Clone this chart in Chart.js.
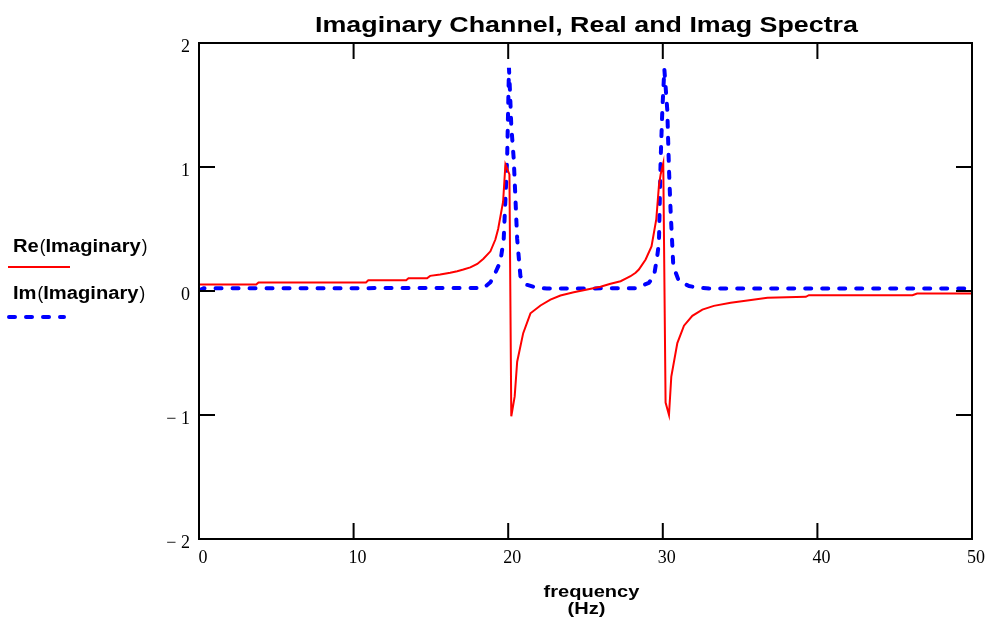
<!DOCTYPE html>
<html>
<head>
<meta charset="utf-8">
<script src="https://cdn.jsdelivr.net/npm/chart.js@4.4.1/dist/chart.umd.min.js"></script>
<style>
  body { margin: 0; background: #fff; }
  canvas { display: block; }
</style>
</head>
<body>
<canvas id="chart" width="989" height="622"></canvas>
<script>
// Re(Imaginary)
const reFreq = [0, 3.7, 3.85, 10.8, 10.95, 13.4, 13.55, 14.75, 14.95, 15.6, 16.25, 16.7, 17.1, 17.55,
  18.0, 18.4, 18.85, 19.17, 19.35, 19.67, 19.82, 20.08, 20.2, 20.42, 20.58, 20.97, 21.44, 22.09,
  22.73, 23.38, 24.24, 25.11, 25.97, 26.62, 27.27, 27.6, 27.91, 28.24, 28.45, 28.89, 29.27, 29.58,
  29.75, 29.86, 30.03, 30.18, 30.4, 30.55, 30.94, 31.37, 31.91, 32.56, 33.3, 34.39, 35.47, 36.77,
  39.25, 39.45, 46.15, 46.45, 50];
const reVals = [0.052, 0.052, 0.069, 0.069, 0.087, 0.087, 0.103, 0.103, 0.122, 0.133, 0.147, 0.16, 0.173, 0.19,
  0.218, 0.26, 0.32, 0.415, 0.5, 0.72, 1.02, 0.94, -1.01, -0.85, -0.57, -0.34, -0.18, -0.117,
  -0.07, -0.036, -0.01, 0.012, 0.034, 0.058, 0.079, 0.1, 0.119, 0.147, 0.173, 0.254, 0.36, 0.58,
  0.85, 0.94, 1.03, -0.9, -1.0, -0.69, -0.42, -0.28, -0.2, -0.15, -0.12, -0.095, -0.077, -0.055,
  -0.047, -0.034, -0.034, -0.02, -0.02];

// Im(Imaginary)
const imFreq = [0, 0.3, 18.4, 18.85, 19.17, 19.5, 19.71, 19.93, 20.05, 20.12, 20.2, 20.36, 20.47, 20.58,
  20.79, 21.2, 21.87, 22.5, 28.24, 29.1, 29.43, 29.64, 29.75, 29.86, 29.97, 30.1, 30.29, 30.4, 30.5,
  30.68, 31.04, 31.7, 32.34, 33, 50];
const imVals = [0.005, 0.022, 0.024, 0.07, 0.147, 0.24, 0.42, 1.06, 1.8, 1.6, 1.33, 1.06, 0.74, 0.42,
  0.12, 0.05, 0.026, 0.02, 0.022, 0.066, 0.12, 0.28, 0.39, 1.06, 1.46, 1.79, 1.46, 0.98, 0.66,
  0.2, 0.08, 0.04, 0.026, 0.02, 0.02];

const xTicks = [0, 10, 20, 30, 40, 50];
const yTicks = [-2, -1, 0, 1, 2];
const seriesNames = ['Re', 'Im'];
const titleText = 'Imaginary Channel, Real and Imag Spectra';
const xTitle = ['frequency', '(Hz)'];

const SANS = '"Liberation Sans", Arial, sans-serif';
const SERIF = '"Liberation Serif", "Times New Roman", serif';

function toPoints(xs, ys) {
  return xs.map((x, i) => ({ x: x, y: ys[i] }));
}

// draw text squeezed/stretched horizontally
function stretchText(ctx, str, x, y, font, sx, align) {
  ctx.save();
  ctx.font = font;
  const w = ctx.measureText(str).width * sx;
  const x0 = align === 'center' ? x - w / 2 : x;
  ctx.translate(x0, y);
  ctx.scale(sx, 1);
  ctx.textAlign = 'left';
  ctx.textBaseline = 'alphabetic';
  ctx.fillText(str, 0, 0);
  ctx.restore();
  return w;
}

const framePlugin = {
  id: 'frame',
  afterDraw(chart) {
    const ctx = chart.ctx;
    const a = chart.chartArea;
    const xs = chart.scales.x, ys = chart.scales.y;
    ctx.save();
    ctx.strokeStyle = '#000';
    ctx.lineWidth = 2;
    ctx.strokeRect(a.left, a.top, a.right - a.left, a.bottom - a.top);

    // inward tick marks on all four sides
    const len = 16;
    ctx.beginPath();
    xTicks.slice(1, -1).forEach(v => {
      const px = xs.getPixelForValue(v);
      ctx.moveTo(px, a.bottom); ctx.lineTo(px, a.bottom - len);
      ctx.moveTo(px, a.top); ctx.lineTo(px, a.top + len);
    });
    yTicks.slice(1, -1).forEach(v => {
      const py = ys.getPixelForValue(v);
      ctx.moveTo(a.left, py); ctx.lineTo(a.left + len, py);
      ctx.moveTo(a.right, py); ctx.lineTo(a.right - len, py);
    });
    ctx.stroke();

    ctx.fillStyle = '#000';
    // title
    stretchText(ctx, titleText, (a.left + a.right) / 2 + 1, 32, 'bold 22px ' + SANS, 1.22, 'center');
    // x axis title
    stretchText(ctx, xTitle[0], (a.left + a.right) / 2 + 6, 597, 'bold 17px ' + SANS, 1.18, 'center');
    stretchText(ctx, xTitle[1], (a.left + a.right) / 2 + 1, 614, 'bold 17px ' + SANS, 1.18, 'center');

    // legend on the left: name(Imaginary) above a line sample
    const rows = [252, 299];
    chart.data.datasets.forEach((ds, i) => {
      const y = rows[i];
      let x = 13;
      x += stretchText(ctx, seriesNames[i], x, y, 'bold 18px ' + SANS, 1.12, 'left');
      x += stretchText(ctx, '(', x + 1, y, '19px ' + SANS, 0.9, 'left') + 1;
      x += stretchText(ctx, 'Imaginary', x, y, 'bold 18px ' + SANS, 1.12, 'left');
      stretchText(ctx, ')', x + 1, y, '19px ' + SANS, 0.9, 'left');

      ctx.save();
      ctx.strokeStyle = ds.borderColor;
      ctx.lineWidth = ds.borderWidth;
      ctx.lineCap = ds.borderCapStyle || 'butt';
      ctx.setLineDash(ds.borderDash || []);
      ctx.beginPath();
      const ly = y + 15 + i * 3;
      ctx.moveTo(i ? 9 : 8, ly);
      ctx.lineTo(i ? 64 : 70, ly);
      ctx.stroke();
      ctx.restore();
    });
    ctx.restore();
  }
};

new Chart(document.getElementById('chart'), {
  type: 'line',
  data: {
    datasets: [
      {
        label: 'Re(Imaginary)',
        data: toPoints(reFreq, reVals),
        borderColor: '#ff0000',
        borderWidth: 2,
        pointRadius: 0,
        tension: 0
      },
      {
        label: 'Im(Imaginary)',
        data: toPoints(imFreq, imVals),
        borderColor: '#0000ff',
        borderWidth: 4,
        borderDash: [6, 11],
        borderCapStyle: 'round',
        pointRadius: 0,
        tension: 0
      }
    ]
  },
  options: {
    responsive: false,
    animation: false,
    layout: { padding: { left: 0, right: 17, top: 43, bottom: 0 } },
    plugins: { legend: { display: false }, title: { display: false }, tooltip: { enabled: false } },
    scales: {
      x: {
        type: 'linear',
        min: xTicks[0],
        max: xTicks[xTicks.length - 1],
        afterBuildTicks: s => { s.ticks = xTicks.map(v => ({ value: v })); },
        afterFit: s => { s.height = 83; },
        grid: { display: false, drawTicks: false },
        border: { display: false },
        ticks: {
          color: '#000',
          font: { family: SERIF, size: 18 },
          padding: 8,
          labelOffset: 4,
          maxRotation: 0
        }
      },
      y: {
        type: 'linear',
        min: yTicks[0],
        max: yTicks[yTicks.length - 1],
        afterBuildTicks: s => { s.ticks = yTicks.map(v => ({ value: v })); },
        afterFit: s => { s.width = 199; },
        grid: { display: false, drawTicks: false },
        border: { display: false },
        ticks: {
          color: '#000',
          font: { family: SERIF, size: 18 },
          padding: 9,
          labelOffset: 4,
          callback: v => v < 0 ? '\u2212 ' + Math.abs(v) : String(v)
        }
      }
    }
  },
  plugins: [framePlugin]
});
</script>
</body>
</html>
